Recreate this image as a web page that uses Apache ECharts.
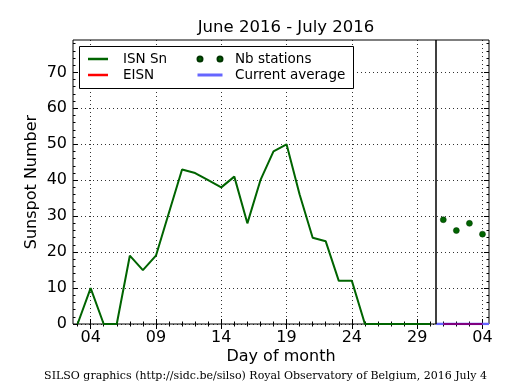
<!DOCTYPE html>
<html>
<head>
<meta charset="utf-8">
<script src="https://cdn.jsdelivr.net/npm/echarts@6/dist/echarts.min.js"></script>
<style>html,body{margin:0;padding:0;background:#fff;}#c{width:515px;height:390px;}</style>
</head>
<body>
<div id="c"></div>
<script>
// ---- data ----
const isnDays = [3,4,5,6,7,8,9,10,11,12,13,14,15,16,17,18,19,20,21,22,23,24,25,26,27,28,29,30];
const isnValues = [0,10,0,0,19,15,19,31,43,42,40,38,41,28,40,48,50,36,24,23,12,12,0,0,0,0,0,0];
const stationDays = [31,32,33,34];
const stationValues = [29,26,28,25];
const eisnDays = [31,32,33,34];
const eisnValues = [0,0,0,0];
const avgDays = [30.45,34.5];
const avgValues = [0,0];
const boundaryDay = 30.45;
const xTickValues = [4,9,14,19,24,29,34];
const xTickLabels = ['04','09','14','19','24','29','04'];
const xMinorTicks = [3,4,5,6,7,8,9,10,11,12,13,14,15,16,17,18,19,20,21,22,23,24,25,26,27,28,29,30,31,32,33,34];
const yTickValues = [0,10,20,30,40,50,60,70];
const yMinorTicks = [0,2,4,6,8,10,12,14,16,18,20,22,24,26,28,30,32,34,36,38,40,42,44,46,48,50,52,54,56,58,60,62,64,66,68,70,72,74,76,78];
const titleText = 'June 2016 - July 2016';
const footerText = 'SILSO graphics (http://sidc.be/silso) Royal Observatory of Belgium, 2016 July 4';

const zip = (xs, ys) => xs.map((x, i) => [x, ys[i]]);
const FONT = 'DejaVu Sans';
const XMIN = 2.65, XMAX = 34.5, YMIN = 0, YMAX = 79;

function xAxisDef(pos, major, showLabels) {
  return {
    type: 'value', min: XMIN, max: XMAX, position: pos,
    axisLine: { show: false },
    axisTick: { show: true, inside: true, length: major ? 5 : 2.5,
      customValues: major ? xTickValues : xMinorTicks,
      lineStyle: { color: '#000', width: 1 } },
    axisLabel: showLabels ? {
      show: true, customValues: xTickValues,
      formatter: v => { const i = xTickValues.indexOf(v); return i >= 0 ? xTickLabels[i] : ''; },
      fontFamily: FONT, fontSize: 16, color: '#000', margin: 6
    } : { show: false },
    splitLine: showLabels ? { show: true, lineStyle: { color: '#000', width: 1, type: [1, 3], opacity: 0.8 } } : { show: false },
    name: showLabels ? 'Day of month' : '',
    nameLocation: 'middle', nameGap: 25, nameMoveOverlap: false,
    nameTextStyle: { fontFamily: FONT, fontSize: 16, color: '#000' }
  };
}
function yAxisDef(pos, major, showLabels) {
  return {
    type: 'value', min: YMIN, max: YMAX, position: pos,
    axisLine: { show: false },
    axisTick: { show: true, inside: true, length: major ? 5 : 2.5,
      customValues: major ? yTickValues : yMinorTicks,
      lineStyle: { color: '#000', width: 1 } },
    axisLabel: showLabels ? {
      show: true, customValues: yTickValues,
      fontFamily: FONT, fontSize: 16, color: '#000', margin: 6
    } : { show: false },
    splitLine: showLabels ? { show: true, lineStyle: { color: '#000', width: 1, type: [1, 3], opacity: 0.8 } } : { show: false },
    name: showLabels ? 'Sunspot Number' : '',
    nameLocation: 'middle', nameGap: 33, nameMoveOverlap: false,
    nameTextStyle: { fontFamily: FONT, fontSize: 16, color: '#000' }
  };
}

const dotsIcon = 'path://M0,2.5a2.5,2.5 0 1,0 5,0a2.5,2.5 0 1,0 -5,0zM20,2.5a2.5,2.5 0 1,0 5,0a2.5,2.5 0 1,0 -5,0z';
const lineIcon = 'path://M0,0M0,1L25,1L25,4L0,4ZM25,5';

const chart = echarts.init(document.getElementById('c'), null, { renderer: 'canvas' });
chart.setOption({
  animation: false,
  backgroundColor: '#fff',
  title: {
    text: titleText, left: 281, top: 14, textAlign: 'center',
    textStyle: { fontFamily: FONT, fontSize: 16.5, fontWeight: 'normal', color: '#000' }
  },
  grid: { left: 73, right: 26, top: 40, bottom: 66, show: true, borderColor: '#000', borderWidth: 1, backgroundColor: 'transparent' },
  xAxis: [ xAxisDef('bottom', true, true), xAxisDef('bottom', false, false), xAxisDef('top', true, false), xAxisDef('top', false, false) ],
  yAxis: [ yAxisDef('left', true, true), yAxisDef('left', false, false), yAxisDef('right', true, false), yAxisDef('right', false, false) ],
  legend: [
    {
      left: 88, top: 51, orient: 'vertical', padding: 0, itemGap: 0, selectedMode: false, z: 10,
      itemWidth: 20, itemHeight: 2.5,
      textStyle: { fontFamily: FONT, fontSize: 13.5, color: '#000', lineHeight: 16, padding: [0, 0, 0, 10] },
      data: [ { name: 'ISN Sn', icon: 'rect' }, { name: 'EISN', icon: 'rect', itemStyle: { color: '#ff0000' } } ]
    },
    {
      left: 196.5, top: 51, orient: 'vertical', padding: 0, itemGap: 0, selectedMode: false, z: 10,
      itemWidth: 25, itemHeight: 5,
      textStyle: { fontFamily: FONT, fontSize: 13.5, color: '#000', lineHeight: 16, padding: [0, 0, 0, 7.5] },
      data: [ { name: 'Nb stations', icon: dotsIcon }, { name: 'Current average', icon: lineIcon } ]
    }
  ],
  graphic: [
    { type: 'rect', shape: { x: 79.5, y: 46.5, width: 274, height: 42 }, style: { fill: '#fff', stroke: '#000', lineWidth: 1 }, z: 3 },
    { type: 'text', x: 265.5, y: 376, style: { text: footerText, fontFamily: 'DejaVu Serif', fontSize: 11, fill: '#000', textAlign: 'center', textVerticalAlign: 'middle' } }
  ],
  series: [
    {
      name: 'Current average', type: 'line', data: zip(avgDays, avgValues),
      showSymbol: false, symbol: 'none', clip: true,
      itemStyle: { color: '#6666ff' }, lineStyle: { color: '#6666ff', width: 2.5 }, z: 2
    },
    {
      name: 'EISN', type: 'line', data: zip(eisnDays, eisnValues),
      showSymbol: false, symbol: 'none', clip: true,
      itemStyle: { color: '#ff0000' }, lineStyle: { color: '#800080', width: 2 }, z: 2
    },
    {
      name: 'ISN Sn', type: 'line', data: zip(isnDays, isnValues),
      showSymbol: false, symbol: 'none', clip: true,
      itemStyle: { color: '#006400' }, lineStyle: { color: '#006400', width: 2 }, z: 2,
      markLine: {
        silent: true, symbol: ['none', 'none'], label: { show: false },
        lineStyle: { color: '#000', width: 1.5, type: 'solid' },
        data: [ { xAxis: boundaryDay } ]
      }
    },
    {
      name: 'Nb stations', type: 'scatter', data: zip(stationDays, stationValues),
      symbol: 'circle', symbolSize: 6,
      itemStyle: { color: '#006400', borderColor: '#003300', borderWidth: 0.5, opacity: 1 }, z: 2
    }
  ]
});
</script>
</body>
</html>
